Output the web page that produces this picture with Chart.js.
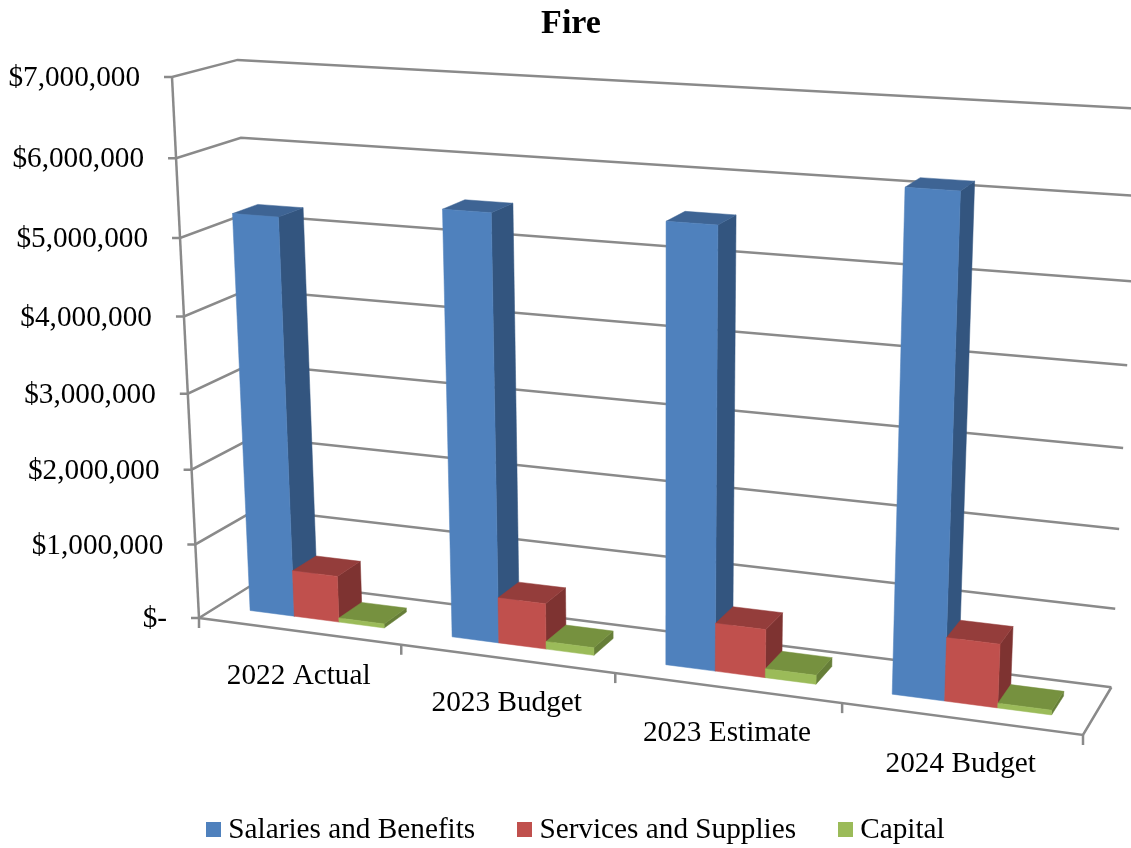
<!DOCTYPE html>
<html>
<head>
<meta charset="utf-8">
<title>Fire</title>
<script src="https://cdn.jsdelivr.net/npm/chart.js@4"></script>
<style>
  html, body { margin: 0; padding: 0; background: #fff; overflow: hidden; }
  #wrap { width: 1131px; height: 848px; }
</style>
</head>
<body>
<div id="wrap"><canvas id="fireChart"></canvas></div>
<script>
const categories = ["2022 Actual", "2023 Budget", "2023 Estimate", "2024 Budget"];
const salaries = [5250000, 5500000, 5550000, 6140000];
const services = [620000, 600000, 620000, 800000];
const capital = [55000, 100000, 115000, 60000];
const seriesNames = ["Salaries and Benefits", "Services and Supplies", "Capital"];

const frontColors = ["#4f81bd", "#c0504d", "#9bbb59"];
const topColors = ["#3e6494", "#943d3b", "#76913f"];
const sideColors = ["#33557f", "#7e3331", "#667e38"];
const gridColor = "#8a8a8a";
const serif = "'Liberation Serif', 'Times New Roman', serif";

// box corners in page pixels: O floor front left, A floor front right,
// B floor back left, C axis top. wa, wb, wc are the perspective weights.
const O = [199, 618], A = [1083, 735], B = [260, 580], C = [172, 77];
const wa = 0.89, wb = 1.042, wc = 0.9447;
const barNear = 0.3, barFar = 0.7;

function project(u, v, w) {
  const d = 1 + u * (wa - 1) + v * (wb - 1) + w * (wc - 1);
  const p = i => O[i] + u * (wa * A[i] - O[i]) + v * (wb * B[i] - O[i]) + w * (wc * C[i] - O[i]);
  return [p(0) / d, p(1) / d];
}

function poly(ctx, pts, fill) {
  ctx.beginPath();
  pts.forEach((p, i) => i ? ctx.lineTo(p[0], p[1]) : ctx.moveTo(p[0], p[1]));
  ctx.closePath();
  ctx.fillStyle = fill;
  ctx.fill();
  ctx.strokeStyle = fill;
  ctx.lineWidth = 0.5;
  ctx.stroke();
}

function line(ctx, pts) {
  ctx.beginPath();
  pts.forEach((p, i) => i ? ctx.lineTo(p[0], p[1]) : ctx.moveTo(p[0], p[1]));
  ctx.stroke();
}

const box3d = {
  id: "box3d",
  afterLayout(chart) {
    chart.legend.left += 7.7;
    chart.legend.right += 7.7;
    chart.legend.top += 6.5;
    chart.legend.bottom += 6.5;
  },
  beforeDatasetsDraw(chart) {
    const ctx = chart.ctx;
    const area = chart.chartArea;
    const xs = chart.scales.x, ys = chart.scales.y;
    const toU = px => (px - area.left) / (area.right - area.left);
    const toW = py => (area.bottom - py) / (area.bottom - area.top);

    ctx.save();
    ctx.strokeStyle = gridColor;
    ctx.lineWidth = 2.5;

    // gridlines on the side and back walls
    ys.ticks.forEach(t => {
      const w = toW(ys.getPixelForValue(t.value));
      const a = project(0, 0, w);
      line(ctx, [[a[0] - 8, a[1]], a, project(0, 1, w), project(1, 1, w)]);
    });
    line(ctx, [project(0, 0, 0), project(0, 0, 1)]);
    line(ctx, [project(0, 0, 0), project(1, 0, 0), project(1, 1, 0)]);

    // category ticks on the front edge of the floor
    const n = categories.length;
    for (let i = 0; i <= n; i++) {
      const p = project(i / n, 0, 0);
      line(ctx, [p, [p[0], p[1] + 10]]);
    }

    // text
    ctx.fillStyle = "#000";
    ctx.font = "29.25px " + serif;
    ctx.textBaseline = "middle";
    ctx.textAlign = "right";
    ys.ticks.forEach(t => {
      const w = toW(ys.getPixelForValue(t.value));
      const a = project(0, 0, w);
      ctx.fillText(t.label, a[0] - 32, a[1] + 1.5);
    });
    ctx.textAlign = "center";
    xs.ticks.forEach((t, i) => {
      const p = project(toU(xs.getPixelForTick(i)), 0, 0);
      ctx.fillText(t.label, p[0], p[1] + 45);
    });

    // bars, painted left to right so the nearer faces cover the others
    categories.forEach((c, j) => {
      chart.data.datasets.forEach((ds, s) => {
        const bar = chart.getDatasetMeta(s).data[j];
        const u0 = toU(bar.x - bar.width / 2), u1 = toU(bar.x + bar.width / 2);
        const w0 = toW(bar.base), w1 = toW(bar.y);
        poly(ctx, [project(u1, barNear, w0), project(u1, barFar, w0), project(u1, barFar, w1), project(u1, barNear, w1)], sideColors[s]);
        poly(ctx, [project(u0, barNear, w1), project(u1, barNear, w1), project(u1, barFar, w1), project(u0, barFar, w1)], topColors[s]);
        poly(ctx, [project(u0, barNear, w0), project(u1, barNear, w0), project(u1, barNear, w1), project(u0, barNear, w1)], frontColors[s]);
      });
    });
    ctx.restore();
    return false;
  }
};

// square legend marker, so the gap between marker and text can stay small
function legendSquare(color) {
  const c = document.createElement("canvas");
  c.width = 15;
  c.height = 15;
  const g = c.getContext("2d");
  g.fillStyle = color;
  g.fillRect(0, 0, 15, 15);
  return c;
}

new Chart(document.querySelector("#fireChart"), {
  type: "bar",
  data: {
    labels: categories,
    datasets: [
      { label: seriesNames[0], data: salaries, backgroundColor: frontColors[0] },
      { label: seriesNames[1], data: services, backgroundColor: frontColors[1] },
      { label: seriesNames[2], data: capital, backgroundColor: frontColors[2] },
    ],
  },
  options: {
    responsive: true,
    maintainAspectRatio: false,
    animation: false,
    layout: { padding: { left: 11 } },
    datasets: { bar: { categoryPercentage: 0.67, barPercentage: 1 } },
    scales: {
      x: { display: false },
      y: {
        display: false,
        min: 0,
        max: 7000000,
        ticks: {
          stepSize: 1000000,
          callback: v => (v === 0 ? "$-" : "$" + v.toLocaleString("en-US")),
        },
      },
    },
    plugins: {
      title: {
        display: true,
        text: "Fire",
        color: "#000",
        font: { family: serif, size: 34, weight: "bold" },
        padding: { top: 4, bottom: 4 },
      },
      legend: {
        position: "bottom",
        labels: {
          color: "#000",
          font: { family: serif, size: 29.25 },
          padding: 48.5,
          usePointStyle: true,
          pointStyleWidth: 1,
          boxHeight: 15,
          generateLabels(chart) {
            return chart.data.datasets.map((ds, i) => ({
              text: ds.label,
              fontColor: "#000",
              fillStyle: frontColors[i],
              strokeStyle: frontColors[i],
              lineWidth: 0,
              pointStyle: legendSquare(frontColors[i]),
              datasetIndex: i,
            }));
          },
        },
      },
      tooltip: { enabled: false },
    },
  },
  plugins: [box3d],
});
</script>
</body>
</html>
